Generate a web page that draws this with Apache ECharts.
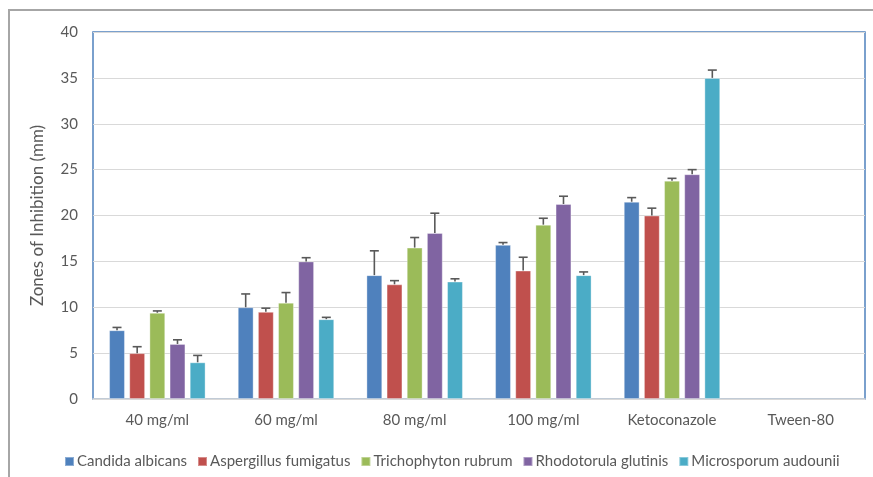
<!DOCTYPE html>
<html>
<head>
<meta charset="utf-8">
<script src="https://cdn.jsdelivr.net/npm/echarts@6/dist/echarts.min.js"></script>
<style>
    html, body { margin: 0; padding: 0; background: #fff; }
    #chart { width: 873px; height: 477px; }
</style>
</head>
<body>
<div id="chart"></div>
<script>
var categories = ['40 mg/ml', '60 mg/ml', '80 mg/ml', '100 mg/ml', 'Ketoconazole', 'Tween-80'];
var seriesNames = ['Candida albicans', 'Aspergillus fumigatus', 'Trichophyton rubrum', 'Rhodotorula glutinis', 'Microsporum audounii'];

// mean values per concentration (Tween-80 had no zone)
var candida = [7.5, 10, 13.5, 16.8, 21.5, null];
var aspergillus = [5, 9.5, 12.5, 14, 20, null];
var trichophyton = [9.4, 10.5, 16.5, 19, 23.8, null];
var rhodotorula = [6, 15, 18.1, 21.25, 24.5, null];
var microsporum = [4, 8.7, 12.8, 13.5, 35, null];

// standard deviations (upper error bar)
var candidaErr = [0.3, 1.45, 2.65, 0.25, 0.45, null];
var aspergillusErr = [0.7, 0.4, 0.4, 1.45, 0.8, null];
var trichophytonErr = [0.2, 1.1, 1.1, 0.7, 0.25, null];
var rhodotorulaErr = [0.45, 0.4, 2.15, 0.85, 0.5, null];
var microsporumErr = [0.75, 0.2, 0.3, 0.35, 0.85, null];

var yTicks = [0, 5, 10, 15, 20, 25, 30, 35, 40];

var values = [candida, aspergillus, trichophyton, rhodotorula, microsporum];
var errors = [candidaErr, aspergillusErr, trichophytonErr, rhodotorulaErr, microsporumErr];
var colors = ['#4F81BD', '#C0504D', '#9BBB59', '#8064A2', '#4BACC6'];

var textColor = '#595959';
var font = 'Lato, "Open Sans", sans-serif';
var barCatGap = 0.25;
var barGapRatio = 0.27;

function errorRenderer(k) {
    return function (params, api) {
        var val = api.value(1);
        var err = api.value(2);
        if (val == null || isNaN(val) || err == null || isNaN(err)) {
            return;
        }
        var catW = api.size([1, 0])[0];
        var used = catW * (1 - barCatGap);
        var n = values.length;
        var bw = used / (n + (n - 1) * barGapRatio);
        var center = api.coord([api.value(0), val]);
        var x = center[0] - used / 2 + k * bw * (1 + barGapRatio) + bw / 2;
        var yTop = api.coord([api.value(0), val + err])[1];
        var yBase = center[1];
        var half = 4.5;
        var style = { stroke: '#595959', lineWidth: 1.6 };
        return {
            type: 'group',
            children: [
                { type: 'line', shape: { x1: x, y1: yBase, x2: x, y2: yTop }, style: style },
                { type: 'line', shape: { x1: x - half, y1: yTop, x2: x + half, y2: yTop }, style: style }
            ]
        };
    };
}

var series = [];
values.forEach(function (data, k) {
    series.push({
        name: seriesNames[k],
        type: 'bar',
        data: data,
        barCategoryGap: (barCatGap * 100) + '%',
        barGap: (barGapRatio * 100) + '%',
        itemStyle: { color: colors[k], borderColor: 'rgba(255,255,255,0.35)', borderWidth: 1 },
        emphasis: { disabled: true }
    });
});
values.forEach(function (data, k) {
    series.push({
        name: seriesNames[k] + ' err',
        type: 'custom',
        renderItem: errorRenderer(k),
        data: data.map(function (v, i) {
            return [i, v, errors[k][i]];
        }),
        encode: { x: 0, y: 1 },
        z: 3,
        silent: true
    });
});

var chart = echarts.init(document.getElementById('chart'));
var option = {
    animation: false,
    backgroundColor: '#fff',
    textStyle: { fontFamily: font },
    graphic: [{
        type: 'rect',
        shape: { x: 9, y: 10, width: 900, height: 500 },
        style: { fill: 'none', stroke: '#a6a6a6', lineWidth: 2 },
        silent: true
    }],
    grid: {
        left: 93,
        right: 8,
        top: 32,
        bottom: 78,
        show: true,
        borderColor: '#4F81BD',
        borderWidth: 1.5
    },
    legend: {
        data: seriesNames,
        left: 59,
        top: 449,
        icon: 'rect',
        itemWidth: 9,
        itemHeight: 9,
        itemGap: 10,
        textStyle: { color: textColor, fontSize: 15, fontFamily: font, padding: [0, 0, 0, -2] }
    },
    xAxis: {
        type: 'category',
        data: categories,
        axisLine: { lineStyle: { color: '#d9d9d9', width: 1.5 } },
        axisTick: { show: false },
        axisLabel: { color: textColor, fontSize: 15, margin: 14 }
    },
    yAxis: {
        type: 'value',
        min: yTicks[0],
        max: yTicks[yTicks.length - 1],
        interval: yTicks[1] - yTicks[0],
        name: 'Zones of Inhibition (mm)',
        nameLocation: 'middle',
        nameGap: 47,
        nameTextStyle: { color: textColor, fontSize: 17 },
        axisLine: { show: false },
        axisTick: { show: false },
        axisLabel: { color: textColor, fontSize: 15, margin: 15 },
        splitLine: { lineStyle: { color: '#d9d9d9', width: 1 } }
    },
    series: series
};
chart.setOption(option);
</script>
</body>
</html>
